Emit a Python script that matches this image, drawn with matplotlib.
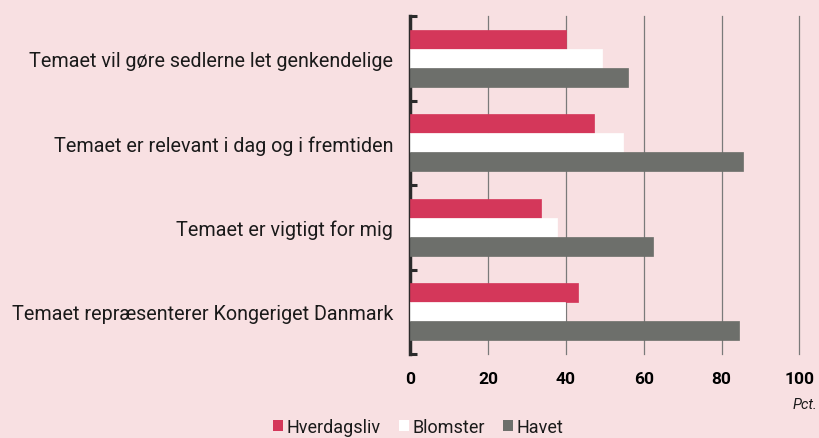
import numpy as np
import matplotlib
matplotlib.use("Agg")
import matplotlib.pyplot as plt
from matplotlib.patches import Patch

plt.rcParams['font.family'] = ['Roboto', 'DejaVu Sans']

categories = [
    "Temaet vil gøre sedlerne let genkendelige",
    "Temaet er relevant i dag og i fremtiden",
    "Temaet er vigtigt for mig",
    "Temaet repræsenterer Kongeriget Danmark",
]
series_names = ["Hverdagsliv", "Blomster", "Havet"]
hverdagsliv = [40.0, 47.3, 33.7, 43.1]
blomster = [49.4, 54.7, 37.7, 39.7]
havet = [55.9, 85.6, 62.3, 84.5]
x_ticks = [0, 20, 40, 60, 80, 100]

bg = "#f8e0e2"
colors = ["#d4375a", "#ffffff", "#6d6f6b"]

fig = plt.figure(figsize=(8.2, 4.39), dpi=100)
fig.patch.set_facecolor(bg)
ax = fig.add_axes([0.5, 0.191, 0.475, 0.77])
ax.set_facecolor(bg)

y = np.arange(len(categories))
h = 0.225
for k, (vals, c) in enumerate(zip([hverdagsliv, blomster, havet], colors)):
    ax.barh(y + (k - 1) * h, vals, height=h, color=c, zorder=3,
            edgecolor=c, linewidth=0.5)

ax.set_xlim(0, 100)
ax.set_ylim(len(categories) - 0.5, -0.5)
ax.set_xticks(x_ticks)
ax.set_xticklabels([str(t) for t in x_ticks], fontweight='bold', fontsize=12.5)
ax.tick_params(axis='x', length=0, pad=12)
ax.grid(axis='x', color='#7a7a7a', linewidth=0.9, zorder=1)
for gl in ax.get_xgridlines():
    gl.set_clip_on(False)

ax.set_yticks(y)
ax.set_yticklabels(categories, fontsize=14.2, color='#1a1a1a')
ax.tick_params(axis='y', which='major', length=0, pad=12)
ax.set_yticks(np.arange(-0.5, len(categories)), minor=True)
ax.tick_params(axis='y', which='minor', direction='in', length=5, width=2.2,
               color='#2b2b2b')

for s in ['top', 'right', 'bottom']:
    ax.spines[s].set_visible(False)
ax.spines['left'].set_linewidth(2.5)
ax.spines['left'].set_color('#2b2b2b')

fig.text(0.997, 0.077, "Pct.", ha='right', va='center', fontsize=10.5,
         style='italic', color='#1a1a1a')

handles = [Patch(facecolor=c, edgecolor='none') for c in colors]
fig.legend(handles, series_names, loc='center', bbox_to_anchor=(0.51, 0.026),
           ncol=3, frameon=False, fontsize=13, handlelength=0.55,
           handleheight=0.55, handletextpad=0.2, columnspacing=1.0,
           borderaxespad=0, borderpad=0, labelcolor='#1a1a1a')

fig.savefig("out.png", dpi=100, facecolor=bg)
